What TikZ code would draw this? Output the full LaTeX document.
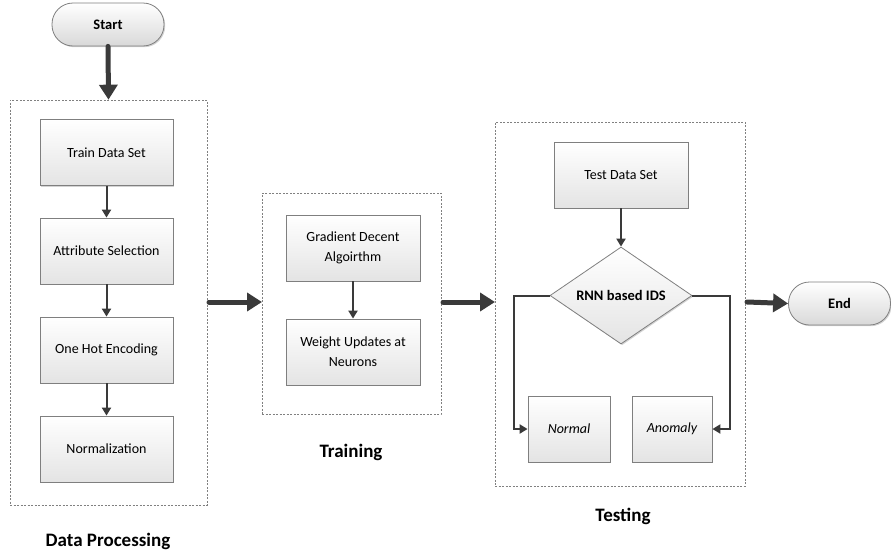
\documentclass[tikz,border=0pt]{standalone}
\usepackage{fontspec}
\setmainfont{Carlito}
\usetikzlibrary{arrows.meta,shapes.geometric,shadows}
\definecolor{linec}{HTML}{3A3A3A}
\definecolor{boxfill}{HTML}{EFEFEF}
\definecolor{boxline}{HTML}{7F7F7F}
\tikzset{
  proc/.style={draw=boxline, line width=0.8pt, top color=white, bottom color=boxfill!90!gray, minimum width=133pt, minimum height=66pt, align=center, font=\fontsize{14}{20}\selectfont, drop shadow={shadow xshift=1.2pt, shadow yshift=-1.2pt, opacity=0.35}},
  term/.style={draw=boxline, line width=0.8pt, rounded corners=21pt, top color=white, bottom color=boxfill!80!gray, minimum height=43pt, font=\bfseries\fontsize{14.5}{17}\selectfont, drop shadow={shadow xshift=1.2pt, shadow yshift=-1.2pt, opacity=0.35}},
  grp/.style={draw=gray, dashed, dash pattern=on 2pt off 1.5pt, line width=0.6pt},
  thin/.style={draw=linec, line width=2pt, -{Triangle[length=8pt,width=9pt]}},
  thick/.style={draw=linec, line width=5pt, line cap=round, -{Triangle[length=15pt,width=18pt]}},
  lbl/.style={font=\bfseries\fontsize{19}{22}\selectfont},
}
\begin{document}
\begin{tikzpicture}[x=1pt,y=-1pt]
\useasboundingbox (0,0) rectangle (891,557);
% groups
\node[grp, minimum width=197pt, minimum height=405pt, inner sep=0pt] (gdp) at (108.5,302.5) {};
\node[grp, minimum width=179pt, minimum height=221pt, inner sep=0pt] (gtr) at (351.5,303.5) {};
\node[grp, minimum width=250pt, minimum height=364pt, inner sep=0pt] (gte) at (620,304) {};
% terminals
\node[term, minimum width=112pt] (start) at (108,24.5) {Start};
\node[term, minimum width=102pt] (end) at (839.5,303.5) {End};
% data processing
\node[proc] (train) at (106.5,152.5) {Train Data Set};
\node[proc] (attr) at (106.5,251) {Attribute Selection};
\node[proc] (onehot) at (106.5,350) {One Hot Encoding};
\node[proc] (norm) at (106.5,449) {Normalization};
% training
\node[proc, minimum width=134pt] (grad) at (353,248) {Gradient Decent\\Algoirthm};
\node[proc, minimum width=134pt] (wup) at (353,352) {Weight Updates at\\Neurons};
% testing
\node[proc, minimum width=134pt] (test) at (621,175) {Test Data Set};
\node[diamond, draw=boxline, line width=0.8pt, top color=white, bottom color=boxfill!90!gray, minimum width=142pt, minimum height=97pt, inner sep=0pt, aspect=1.46, font=\bfseries\fontsize{14.5}{17}\selectfont, drop shadow={shadow xshift=1.2pt, shadow yshift=-1.2pt, opacity=0.35}] (ids) at (621,295.5) {RNN based IDS};
\node[proc, minimum width=82pt, font=\itshape\fontsize{14}{17}\selectfont] (normal) at (569,429) {Normal};
\node[proc, minimum width=80pt, font=\itshape\fontsize{14}{17}\selectfont] (anom) at (672,429) {Anomaly};
% labels
\node[lbl] (ldp) at (108,541) {Data Processing};
\node[lbl] (ltr) at (351,452) {Training};
\node[lbl] (lte) at (623,516) {Testing};
% connectors
\draw[thick] (start.south) -- (gdp.north);
\draw[thin] (train) -- (attr);
\draw[thin] (attr) -- (onehot);
\draw[thin] (onehot) -- (norm);
\draw[thin] (grad) -- (wup);
\draw[thin] (test) -- (ids);
\draw[thin] (ids.west) -| ++(-36,0) |- (normal.west);
\draw[thin] (ids.east) -| ++(38,0) |- (anom.east);
\coordinate (a1) at (209,302);
\coordinate (a2) at (262,302);
\coordinate (a3) at (443,302);
\coordinate (a4) at (495,302);
\coordinate (a5) at (747,302);
\draw[thick] (a1) -- (a2);
\draw[thick] (a3) -- (a4);
\draw[thick] (a5) -- (end.west);
\end{tikzpicture}
\end{document}
